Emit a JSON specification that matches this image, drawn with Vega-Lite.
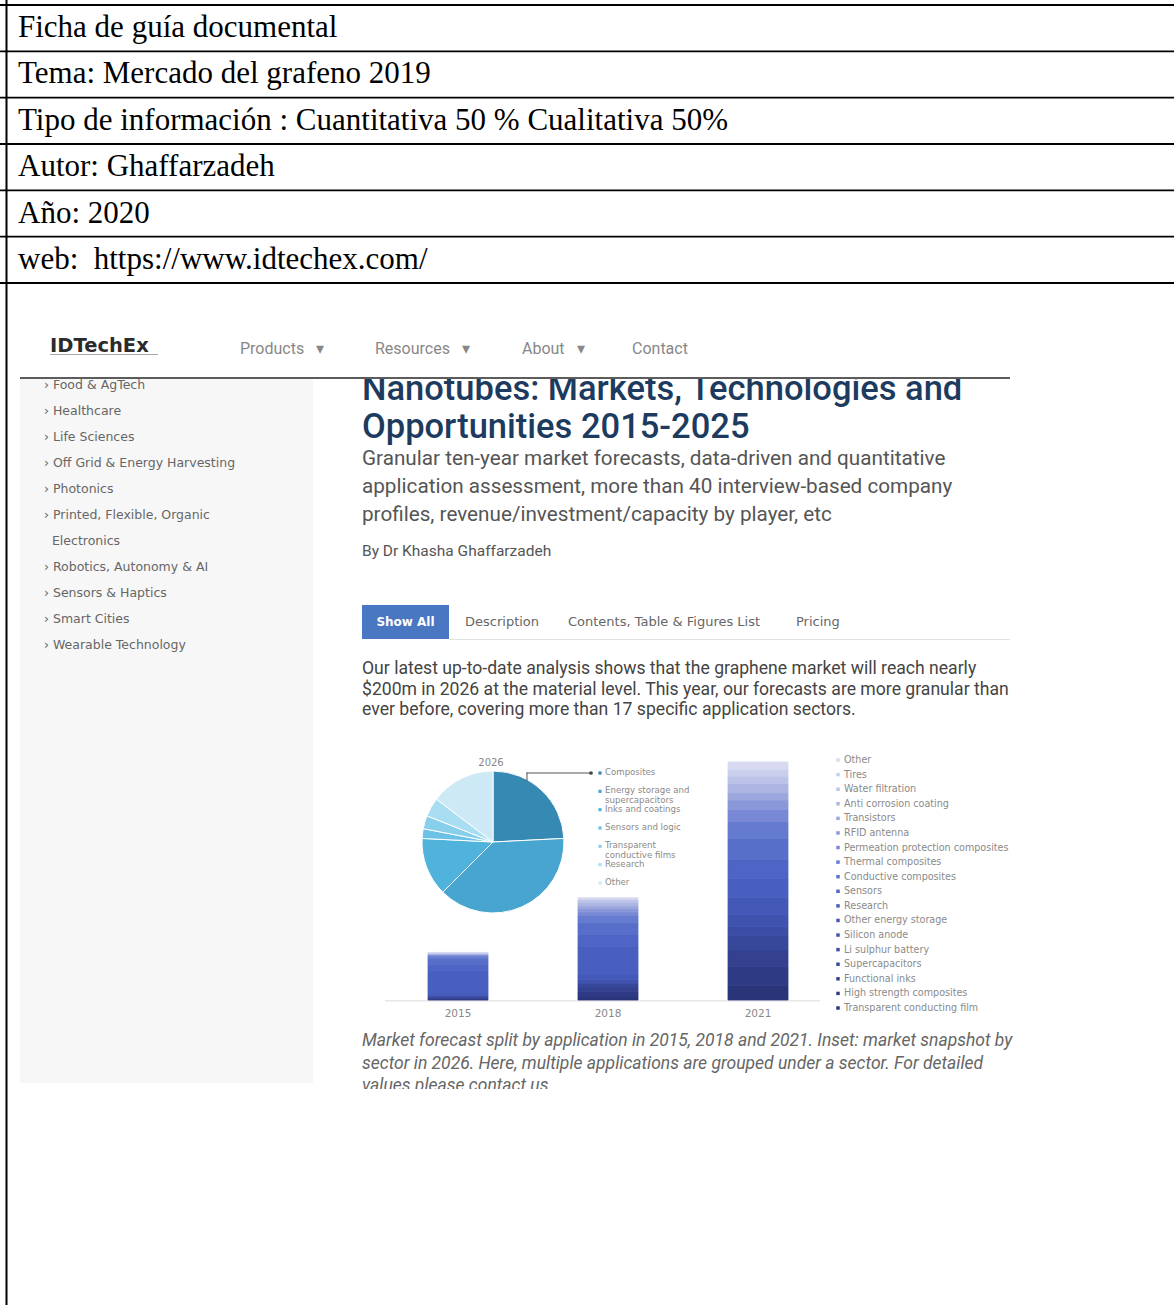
{
  "$schema": "https://vega.github.io/schema/vega-lite/v6.json",
  "width": 1174,
  "height": 1305,
  "autosize": "none",
  "padding": 0,
  "background": "#ffffff",
  "config": {"view": {"stroke": null}, "axis": {"disable": true}, "legend": {"disable": true}},
  "resolve": {"scale": {"x": "independent", "y": "independent", "color": "independent", "theta": "independent", "stroke": "independent"}},
  "layer": [
    {
      "data": {"values": [{"part": "sidebar"}]},
      "mark": {"type": "rect", "color": "#f7f7f7"},
      "encoding": {
        "x": {"field": "part", "type": "nominal", "scale": {"type": "band", "range": [20, 313], "paddingInner": 0, "paddingOuter": 0}},
        "y": {"field": "part", "type": "nominal", "scale": {"type": "band", "range": [379, 1083], "paddingInner": 0, "paddingOuter": 0}}
      }
    },
    {
      "data": {"values": [{"text": "Nanotubes: Markets, Technologies and\nOpportunities 2015-2025"}]},
      "mark": {"type": "text", "align": "left", "baseline": "alphabetic", "font": "Roboto", "fontSize": 34.5, "fontWeight": 500, "color": "#1d3b5e", "lineBreak": "\n", "lineHeight": 38},
      "encoding": {
        "text": {"field": "text"},
        "x": {"datum": "a", "type": "nominal", "scale": {"type": "point", "range": [362, 362]}},
        "y": {"datum": "a", "type": "nominal", "scale": {"type": "point", "range": [400, 400]}}
      }
    },
    {
      "data": {"values": [{"part": "navcover"}]},
      "mark": {"type": "rect", "color": "#ffffff"},
      "encoding": {
        "x": {"field": "part", "type": "nominal", "scale": {"type": "band", "range": [20, 1010], "paddingInner": 0, "paddingOuter": 0}},
        "y": {"field": "part", "type": "nominal", "scale": {"type": "band", "range": [284, 377], "paddingInner": 0, "paddingOuter": 0}}
      }
    },
    {
      "data": {"values": [{"part": "navline"}]},
      "mark": {"type": "rect", "color": "#5c5c5c"},
      "encoding": {
        "x": {"field": "part", "type": "nominal", "scale": {"type": "band", "range": [20, 1010], "paddingInner": 0, "paddingOuter": 0}},
        "y": {"field": "part", "type": "nominal", "scale": {"type": "band", "range": [377, 379], "paddingInner": 0, "paddingOuter": 0}}
      }
    },
    {
      "data": {"values": [{"text": "IDTechEx"}]},
      "mark": {"type": "text", "align": "left", "baseline": "middle", "font": "DejaVu Sans", "fontSize": 19.5, "fontWeight": "bold", "color": "#2b2b2b"},
      "encoding": {
        "text": {"field": "text"},
        "x": {"datum": "a", "type": "nominal", "scale": {"type": "point", "range": [50, 50]}},
        "y": {"datum": "a", "type": "nominal", "scale": {"type": "point", "range": [346, 346]}}
      }
    },
    {
      "data": {"values": [{"part": "underline"}]},
      "mark": {"type": "rect", "color": "#aaaaaa"},
      "encoding": {
        "x": {"field": "part", "type": "nominal", "scale": {"type": "band", "range": [50, 158], "paddingInner": 0, "paddingOuter": 0}},
        "y": {"field": "part", "type": "nominal", "scale": {"type": "band", "range": [354, 355], "paddingInner": 0, "paddingOuter": 0}}
      }
    },
    {
      "data": {"values": [{"item": "Products\u00a0\u00a0\u00a0▾"}, {"item": "Resources\u00a0\u00a0\u00a0▾"}]},
      "mark": {"type": "text", "align": "left", "baseline": "middle", "font": "Roboto", "fontSize": 16, "color": "#888888"},
      "encoding": {
        "text": {"field": "item"},
        "x": {"field": "item", "type": "nominal", "sort": null, "scale": {"type": "point", "range": [240, 375], "padding": 0}},
        "y": {"datum": "a", "type": "nominal", "scale": {"type": "point", "range": [349, 349]}}
      }
    },
    {
      "data": {"values": [{"item": "About\u00a0\u00a0\u00a0▾"}, {"item": "Contact"}]},
      "mark": {"type": "text", "align": "left", "baseline": "middle", "font": "Roboto", "fontSize": 16, "color": "#888888"},
      "encoding": {
        "text": {"field": "item"},
        "x": {"field": "item", "type": "nominal", "sort": null, "scale": {"type": "point", "range": [522, 632], "padding": 0}},
        "y": {"datum": "a", "type": "nominal", "scale": {"type": "point", "range": [349, 349]}}
      }
    },
    {
      "data": {"values": [
        {"line": 1, "text": "› Food & AgTech"},
        {"line": 2, "text": "› Healthcare"},
        {"line": 3, "text": "› Life Sciences"},
        {"line": 4, "text": "› Off Grid & Energy Harvesting"},
        {"line": 5, "text": "› Photonics"},
        {"line": 6, "text": "› Printed, Flexible, Organic"},
        {"line": 7, "text": "\u200b\u00a0\u00a0Electronics"},
        {"line": 8, "text": "› Robotics, Autonomy & AI"},
        {"line": 9, "text": "› Sensors & Haptics"},
        {"line": 10, "text": "› Smart Cities"},
        {"line": 11, "text": "› Wearable Technology"}
      ]},
      "mark": {"type": "text", "align": "left", "baseline": "middle", "font": "DejaVu Sans", "fontSize": 12.5, "color": "#666666"},
      "encoding": {
        "text": {"field": "text"},
        "x": {"datum": "a", "type": "nominal", "scale": {"type": "point", "range": [44, 44]}},
        "y": {"field": "line", "type": "ordinal", "scale": {"type": "point", "range": [385, 645], "padding": 0}}
      }
    },
    {
      "data": {"values": [{"text": "Granular ten-year market forecasts, data-driven and quantitative\napplication assessment, more than 40 interview-based company\nprofiles, revenue/investment/capacity by player, etc"}]},
      "mark": {"type": "text", "align": "left", "baseline": "alphabetic", "font": "Roboto", "fontSize": 20.7, "color": "#555555", "lineBreak": "\n", "lineHeight": 28},
      "encoding": {
        "text": {"field": "text"},
        "x": {"datum": "a", "type": "nominal", "scale": {"type": "point", "range": [362, 362]}},
        "y": {"datum": "a", "type": "nominal", "scale": {"type": "point", "range": [465, 465]}}
      }
    },
    {
      "data": {"values": [{"text": "By Dr Khasha Ghaffarzadeh"}]},
      "mark": {"type": "text", "align": "left", "baseline": "alphabetic", "font": "Roboto", "fontSize": 15.5, "color": "#555555"},
      "encoding": {
        "text": {"field": "text"},
        "x": {"datum": "a", "type": "nominal", "scale": {"type": "point", "range": [362, 362]}},
        "y": {"datum": "a", "type": "nominal", "scale": {"type": "point", "range": [556, 556]}}
      }
    },
    {
      "data": {"values": [{"part": "tab"}]},
      "mark": {"type": "rect", "color": "#4a77c1"},
      "encoding": {
        "x": {"field": "part", "type": "nominal", "scale": {"type": "band", "range": [362, 449], "paddingInner": 0, "paddingOuter": 0}},
        "y": {"field": "part", "type": "nominal", "scale": {"type": "band", "range": [605, 639], "paddingInner": 0, "paddingOuter": 0}}
      }
    },
    {
      "data": {"values": [{"part": "tabline"}]},
      "mark": {"type": "rect", "color": "#e2e2e2"},
      "encoding": {
        "x": {"field": "part", "type": "nominal", "scale": {"type": "band", "range": [449, 1010], "paddingInner": 0, "paddingOuter": 0}},
        "y": {"field": "part", "type": "nominal", "scale": {"type": "band", "range": [639, 640], "paddingInner": 0, "paddingOuter": 0}}
      }
    },
    {
      "data": {"values": [{"text": "Show All"}]},
      "mark": {"type": "text", "align": "center", "baseline": "middle", "font": "DejaVu Sans", "fontSize": 12, "fontWeight": "bold", "color": "#ffffff"},
      "encoding": {
        "text": {"field": "text"},
        "x": {"datum": "a", "type": "nominal", "scale": {"type": "point", "range": [405.5, 405.5]}},
        "y": {"datum": "a", "type": "nominal", "scale": {"type": "point", "range": [622, 622]}}
      }
    },
    {
      "data": {"values": [{"text": "Description"}]},
      "mark": {"type": "text", "align": "left", "baseline": "middle", "font": "DejaVu Sans", "fontSize": 13, "color": "#666666"},
      "encoding": {
        "text": {"field": "text"},
        "x": {"datum": "a", "type": "nominal", "scale": {"type": "point", "range": [465, 465]}},
        "y": {"datum": "a", "type": "nominal", "scale": {"type": "point", "range": [622, 622]}}
      }
    },
    {
      "data": {"values": [{"text": "Contents, Table & Figures List"}]},
      "mark": {"type": "text", "align": "left", "baseline": "middle", "font": "DejaVu Sans", "fontSize": 13, "color": "#666666"},
      "encoding": {
        "text": {"field": "text"},
        "x": {"datum": "a", "type": "nominal", "scale": {"type": "point", "range": [568, 568]}},
        "y": {"datum": "a", "type": "nominal", "scale": {"type": "point", "range": [622, 622]}}
      }
    },
    {
      "data": {"values": [{"text": "Pricing"}]},
      "mark": {"type": "text", "align": "left", "baseline": "middle", "font": "DejaVu Sans", "fontSize": 13, "color": "#666666"},
      "encoding": {
        "text": {"field": "text"},
        "x": {"datum": "a", "type": "nominal", "scale": {"type": "point", "range": [796, 796]}},
        "y": {"datum": "a", "type": "nominal", "scale": {"type": "point", "range": [622, 622]}}
      }
    },
    {
      "data": {"values": [{"text": "Our latest up-to-date analysis shows that the graphene market will reach nearly\n$200m in 2026 at the material level. This year, our forecasts are more granular than\never before, covering more than 17 specific application sectors."}]},
      "mark": {"type": "text", "align": "left", "baseline": "alphabetic", "font": "Roboto", "fontSize": 17.6, "color": "#444444", "lineBreak": "\n", "lineHeight": 20.5},
      "encoding": {
        "text": {"field": "text"},
        "x": {"datum": "a", "type": "nominal", "scale": {"type": "point", "range": [362, 362]}},
        "y": {"datum": "a", "type": "nominal", "scale": {"type": "point", "range": [674, 674]}}
      }
    },
    {
      "data": {"values": [{"text": "2026"}]},
      "mark": {"type": "text", "align": "center", "baseline": "middle", "font": "DejaVu Sans", "fontSize": 10, "color": "#888888"},
      "encoding": {
        "text": {"field": "text"},
        "x": {"datum": "a", "type": "nominal", "scale": {"type": "point", "range": [491, 491]}},
        "y": {"datum": "a", "type": "nominal", "scale": {"type": "point", "range": [763, 763]}}
      }
    },
    {
      "data": {"values": [
        {"k": 1, "s": "Composites", "v": 24.2},
        {"k": 2, "s": "Energy storage and supercapacitors", "v": 38.3},
        {"k": 3, "s": "Inks and coatings", "v": 13.3},
        {"k": 4, "s": "Sensors and logic", "v": 2.2},
        {"k": 5, "s": "Transparent conductive films", "v": 3.0},
        {"k": 6, "s": "Research", "v": 4.3},
        {"k": 7, "s": "Other", "v": 14.7}
      ]},
      "mark": {"type": "arc", "outerRadius": 71, "stroke": "#ffffff", "strokeWidth": 1},
      "encoding": {
        "theta": {"field": "v", "type": "quantitative", "stack": true},
        "order": {"field": "k", "type": "quantitative"},
        "color": {"field": "s", "type": "nominal", "scale": {
          "domain": ["Composites", "Energy storage and supercapacitors", "Inks and coatings", "Sensors and logic", "Transparent conductive films", "Research", "Other"],
          "range": ["#3689b2", "#47a5cf", "#50b3dc", "#6cc2e6", "#88cfec", "#a9ddf2", "#cde9f6"]}},
        "x": {"datum": "a", "type": "nominal", "scale": {"type": "point", "range": [493, 493]}},
        "y": {"datum": "a", "type": "nominal", "scale": {"type": "point", "range": [842, 842]}}
      }
    },
    {
      "data": {"values": [{"part": "leader"}]},
      "mark": {"type": "rect", "color": "#555555"},
      "encoding": {
        "x": {"field": "part", "type": "nominal", "scale": {"type": "band", "range": [526.5, 527.5], "paddingInner": 0, "paddingOuter": 0}},
        "y": {"field": "part", "type": "nominal", "scale": {"type": "band", "range": [772.5, 781], "paddingInner": 0, "paddingOuter": 0}}
      }
    },
    {
      "data": {"values": [{"part": "leader"}]},
      "mark": {"type": "rect", "color": "#555555"},
      "encoding": {
        "x": {"field": "part", "type": "nominal", "scale": {"type": "band", "range": [526.5, 590], "paddingInner": 0, "paddingOuter": 0}},
        "y": {"field": "part", "type": "nominal", "scale": {"type": "band", "range": [772.5, 773.5], "paddingInner": 0, "paddingOuter": 0}}
      }
    },
    {
      "data": {"values": [{"part": "leader"}]},
      "mark": {"type": "point", "shape": "circle", "filled": true, "size": 14, "color": "#444444", "opacity": 1},
      "encoding": {
        "x": {"datum": "a", "type": "nominal", "scale": {"type": "point", "range": [591, 591]}},
        "y": {"datum": "a", "type": "nominal", "scale": {"type": "point", "range": [773, 773]}}
      }
    },
    {
      "data": {"values": [
        {"s": "Composites", "label": "Composites"},
        {"s": "Energy storage and supercapacitors", "label": "Energy storage and\nsupercapacitors"},
        {"s": "Inks and coatings", "label": "Inks and coatings"},
        {"s": "Sensors and logic", "label": "Sensors and logic"},
        {"s": "Transparent conductive films", "label": "Transparent\nconductive films"},
        {"s": "Research", "label": "Research"},
        {"s": "Other", "label": "Other"}
      ]},
      "encoding": {
        "x": {"datum": "a", "type": "nominal", "scale": {"type": "point", "range": [600, 600]}},
        "y": {"field": "s", "type": "nominal", "scale": {"type": "point", "domain": ["Composites", "Energy storage and supercapacitors", "Inks and coatings", "Sensors and logic", "Transparent conductive films", "Research", "Other"], "range": [773, 883], "padding": 0}}
      },
      "layer": [
        {
          "mark": {"type": "point", "shape": "square", "filled": true, "size": 10, "opacity": 1},
          "encoding": {"color": {"field": "s", "type": "nominal", "scale": {
            "domain": ["Composites", "Energy storage and supercapacitors", "Inks and coatings", "Sensors and logic", "Transparent conductive films", "Research", "Other"],
            "range": ["#3689b2", "#47a5cf", "#50b3dc", "#6cc2e6", "#88cfec", "#a9ddf2", "#cde9f6"]}}}
        },
        {
          "mark": {"type": "text", "align": "left", "baseline": "top", "dx": 5, "dy": -5, "font": "DejaVu Sans", "fontSize": 8.6, "color": "#8a8a8a", "lineBreak": "\n", "lineHeight": 10},
          "encoding": {"text": {"field": "label"}}
        }
      ]
    },
    {
      "data": {"values": [{"part": "baseline"}]},
      "mark": {"type": "rect", "color": "#e6e6e6"},
      "encoding": {
        "x": {"field": "part", "type": "nominal", "scale": {"type": "band", "range": [385, 820], "paddingInner": 0, "paddingOuter": 0}},
        "y": {"field": "part", "type": "nominal", "scale": {"type": "band", "range": [1000, 1001.5], "paddingInner": 0, "paddingOuter": 0}}
      }
    },
    {
      "data": {"values": [
        {"year": "2015", "k": 1, "app": "Transparent conducting film", "v": 0.2},
        {"year": "2015", "k": 2, "app": "High strength composites", "v": 0.3},
        {"year": "2015", "k": 3, "app": "Functional inks", "v": 0.5},
        {"year": "2015", "k": 4, "app": "Supercapacitors", "v": 0.5},
        {"year": "2015", "k": 5, "app": "Li sulphur battery", "v": 0.1},
        {"year": "2015", "k": 6, "app": "Silicon anode", "v": 0.2},
        {"year": "2015", "k": 7, "app": "Other energy storage", "v": 0.7},
        {"year": "2015", "k": 8, "app": "Research", "v": 10},
        {"year": "2015", "k": 9, "app": "Sensors", "v": 2.5},
        {"year": "2015", "k": 10, "app": "Conductive composites", "v": 2.5},
        {"year": "2015", "k": 11, "app": "Thermal composites", "v": 1},
        {"year": "2015", "k": 12, "app": "Permeation protection composites", "v": 0.3},
        {"year": "2015", "k": 13, "app": "RFID antenna", "v": 0.3},
        {"year": "2015", "k": 14, "app": "Transistors", "v": 0.2},
        {"year": "2015", "k": 15, "app": "Anti corrosion coating", "v": 0.2},
        {"year": "2015", "k": 16, "app": "Water filtration", "v": 0.2},
        {"year": "2015", "k": 17, "app": "Tires", "v": 0.1},
        {"year": "2015", "k": 18, "app": "Other", "v": 0.2},
        {"year": "2018", "k": 1, "app": "Transparent conducting film", "v": 1.5},
        {"year": "2018", "k": 2, "app": "High strength composites", "v": 2},
        {"year": "2018", "k": 3, "app": "Functional inks", "v": 2},
        {"year": "2018", "k": 4, "app": "Supercapacitors", "v": 1.5},
        {"year": "2018", "k": 5, "app": "Li sulphur battery", "v": 0.5},
        {"year": "2018", "k": 6, "app": "Silicon anode", "v": 1},
        {"year": "2018", "k": 7, "app": "Other energy storage", "v": 2},
        {"year": "2018", "k": 8, "app": "Research", "v": 12},
        {"year": "2018", "k": 9, "app": "Sensors", "v": 5},
        {"year": "2018", "k": 10, "app": "Conductive composites", "v": 5},
        {"year": "2018", "k": 11, "app": "Thermal composites", "v": 3},
        {"year": "2018", "k": 12, "app": "Permeation protection composites", "v": 1.5},
        {"year": "2018", "k": 13, "app": "RFID antenna", "v": 1.5},
        {"year": "2018", "k": 14, "app": "Transistors", "v": 1},
        {"year": "2018", "k": 15, "app": "Anti corrosion coating", "v": 1.5},
        {"year": "2018", "k": 16, "app": "Water filtration", "v": 1},
        {"year": "2018", "k": 17, "app": "Tires", "v": 0.5},
        {"year": "2018", "k": 18, "app": "Other", "v": 0.5},
        {"year": "2021", "k": 1, "app": "Transparent conducting film", "v": 6},
        {"year": "2021", "k": 2, "app": "High strength composites", "v": 8},
        {"year": "2021", "k": 3, "app": "Functional inks", "v": 7},
        {"year": "2021", "k": 4, "app": "Supercapacitors", "v": 6},
        {"year": "2021", "k": 5, "app": "Li sulphur battery", "v": 4},
        {"year": "2021", "k": 6, "app": "Silicon anode", "v": 5},
        {"year": "2021", "k": 7, "app": "Other energy storage", "v": 7},
        {"year": "2021", "k": 8, "app": "Research", "v": 8},
        {"year": "2021", "k": 9, "app": "Sensors", "v": 8},
        {"year": "2021", "k": 10, "app": "Conductive composites", "v": 9},
        {"year": "2021", "k": 11, "app": "Thermal composites", "v": 7},
        {"year": "2021", "k": 12, "app": "Permeation protection composites", "v": 5},
        {"year": "2021", "k": 13, "app": "RFID antenna", "v": 4},
        {"year": "2021", "k": 14, "app": "Transistors", "v": 3},
        {"year": "2021", "k": 15, "app": "Anti corrosion coating", "v": 4},
        {"year": "2021", "k": 16, "app": "Water filtration", "v": 3},
        {"year": "2021", "k": 17, "app": "Tires", "v": 3},
        {"year": "2021", "k": 18, "app": "Other", "v": 3}
      ]},
      "encoding": {
        "x": {"field": "year", "type": "nominal", "scale": {"type": "band", "domain": ["2015", "2018", "2021"], "range": [428, 788], "paddingInner": 0.6, "paddingOuter": 0}}
      },
      "layer": [
        {
          "mark": {"type": "bar", "strokeWidth": 0.8},
          "encoding": {
            "y": {"field": "v", "type": "quantitative", "stack": "zero", "scale": {"domain": [0, 100], "range": [1000, 762], "nice": false}},
            "order": {"field": "k", "type": "quantitative"},
            "color": {"field": "app", "type": "nominal", "scale": {
              "domain": ["Transparent conducting film", "High strength composites", "Functional inks", "Supercapacitors", "Li sulphur battery", "Silicon anode", "Other energy storage", "Research", "Sensors", "Conductive composites", "Thermal composites", "Permeation protection composites", "RFID antenna", "Transistors", "Anti corrosion coating", "Water filtration", "Tires", "Other"],
              "range": ["#2a3479", "#2e3a84", "#33418f", "#37479a", "#3b4da4", "#3f53ae", "#4459b7", "#485fbf", "#4e65c5", "#586fca", "#657bcf", "#7888d4", "#8a98d9", "#9ca7de", "#adb5e3", "#bcc3e8", "#cacfec", "#d7daf0"]}},
            "stroke": {"field": "app", "type": "nominal", "scale": {
              "domain": ["Transparent conducting film", "High strength composites", "Functional inks", "Supercapacitors", "Li sulphur battery", "Silicon anode", "Other energy storage", "Research", "Sensors", "Conductive composites", "Thermal composites", "Permeation protection composites", "RFID antenna", "Transistors", "Anti corrosion coating", "Water filtration", "Tires", "Other"],
              "range": ["#2a3479", "#2e3a84", "#33418f", "#37479a", "#3b4da4", "#3f53ae", "#4459b7", "#485fbf", "#4e65c5", "#586fca", "#657bcf", "#7888d4", "#8a98d9", "#9ca7de", "#adb5e3", "#bcc3e8", "#cacfec", "#d7daf0"]}}
          }
        },
        {
          "transform": [{"filter": "datum.k == 1"}],
          "mark": {"type": "text", "align": "center", "baseline": "middle", "dy": 14, "font": "DejaVu Sans", "fontSize": 10.5, "color": "#888888"},
          "encoding": {
            "text": {"field": "year"},
            "y": {"datum": 0, "type": "quantitative"}
          }
        }
      ]
    },
    {
      "data": {"values": [
        {"app": "Other"}, {"app": "Tires"}, {"app": "Water filtration"}, {"app": "Anti corrosion coating"},
        {"app": "Transistors"}, {"app": "RFID antenna"}, {"app": "Permeation protection composites"},
        {"app": "Thermal composites"}, {"app": "Conductive composites"}, {"app": "Sensors"}, {"app": "Research"},
        {"app": "Other energy storage"}, {"app": "Silicon anode"}, {"app": "Li sulphur battery"},
        {"app": "Supercapacitors"}, {"app": "Functional inks"}, {"app": "High strength composites"},
        {"app": "Transparent conducting film"}
      ]},
      "encoding": {
        "x": {"datum": "a", "type": "nominal", "scale": {"type": "point", "range": [838, 838]}},
        "y": {"field": "app", "type": "nominal", "scale": {"type": "point", "domain": ["Other", "Tires", "Water filtration", "Anti corrosion coating", "Transistors", "RFID antenna", "Permeation protection composites", "Thermal composites", "Conductive composites", "Sensors", "Research", "Other energy storage", "Silicon anode", "Li sulphur battery", "Supercapacitors", "Functional inks", "High strength composites", "Transparent conducting film"], "range": [760, 1008], "padding": 0}}
      },
      "layer": [
        {
          "mark": {"type": "point", "shape": "square", "filled": true, "size": 12, "opacity": 1},
          "encoding": {"color": {"field": "app", "type": "nominal", "scale": {
            "domain": ["Transparent conducting film", "High strength composites", "Functional inks", "Supercapacitors", "Li sulphur battery", "Silicon anode", "Other energy storage", "Research", "Sensors", "Conductive composites", "Thermal composites", "Permeation protection composites", "RFID antenna", "Transistors", "Anti corrosion coating", "Water filtration", "Tires", "Other"],
            "range": ["#2a3479", "#2e3a84", "#33418f", "#37479a", "#3b4da4", "#3f53ae", "#4459b7", "#485fbf", "#4e65c5", "#586fca", "#657bcf", "#7888d4", "#8a98d9", "#9ca7de", "#adb5e3", "#bcc3e8", "#cacfec", "#d7daf0"]}}}
        },
        {
          "mark": {"type": "text", "align": "left", "baseline": "middle", "dx": 6, "font": "DejaVu Sans", "fontSize": 9.6, "color": "#8a8a8a"},
          "encoding": {"text": {"field": "app"}}
        }
      ]
    },
    {
      "data": {"values": [{"text": "Market forecast split by application in 2015, 2018 and 2021. Inset: market snapshot by\nsector in 2026. Here, multiple applications are grouped under a sector. For detailed\nvalues please contact us"}]},
      "mark": {"type": "text", "align": "left", "baseline": "alphabetic", "font": "Roboto", "fontSize": 17.5, "fontStyle": "italic", "color": "#666666", "lineBreak": "\n", "lineHeight": 22.5},
      "encoding": {
        "text": {"field": "text"},
        "x": {"datum": "a", "type": "nominal", "scale": {"type": "point", "range": [362, 362]}},
        "y": {"datum": "a", "type": "nominal", "scale": {"type": "point", "range": [1046, 1046]}}
      }
    },
    {
      "data": {"values": [{"part": "cut"}]},
      "mark": {"type": "rect", "color": "#ffffff"},
      "encoding": {
        "x": {"field": "part", "type": "nominal", "scale": {"type": "band", "range": [8, 1174], "paddingInner": 0, "paddingOuter": 0}},
        "y": {"field": "part", "type": "nominal", "scale": {"type": "band", "range": [1089, 1305], "paddingInner": 0, "paddingOuter": 0}}
      }
    },
    {
      "data": {"values": [
        {"row": 1, "text": "Ficha de guía documental"},
        {"row": 2, "text": "Tema: Mercado del grafeno 2019"},
        {"row": 3, "text": "Tipo de información : Cuantitativa 50 % Cualitativa 50%"},
        {"row": 4, "text": "Autor: Ghaffarzadeh"},
        {"row": 5, "text": "Año: 2020"},
        {"row": 6, "text": "web:\u00a0 https://www.idtechex.com/"}
      ]},
      "mark": {"type": "text", "align": "left", "baseline": "alphabetic", "font": "Liberation Serif", "fontSize": 31, "color": "#000000"},
      "encoding": {
        "text": {"field": "text"},
        "x": {"datum": "a", "type": "nominal", "scale": {"type": "point", "range": [18, 18]}},
        "y": {"field": "row", "type": "ordinal", "scale": {"type": "point", "range": [37, 269], "padding": 0}}
      }
    },
    {
      "data": {"values": [{"line": 0}, {"line": 1}, {"line": 2}, {"line": 3}, {"line": 4}, {"line": 5}, {"line": 6}]},
      "mark": {"type": "rule", "color": "#000000", "strokeWidth": 1.8},
      "encoding": {
        "y": {"field": "line", "type": "ordinal", "scale": {"type": "point", "range": [5, 283], "padding": 0}}
      }
    },
    {
      "data": {"values": [{"part": "border"}]},
      "mark": {"type": "rule", "color": "#000000", "strokeWidth": 2},
      "encoding": {
        "x": {"field": "part", "type": "nominal", "scale": {"type": "point", "range": [6.5, 6.5]}}
      }
    }
  ]
}
